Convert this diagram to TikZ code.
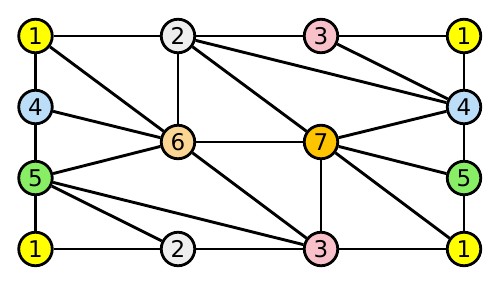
\documentclass[tikz,border=0pt]{standalone}
\usepackage{fontspec}
\setmainfont{DejaVu Sans}
\definecolor{cA}{HTML}{FFFF00}
\definecolor{cB}{HTML}{EEEEEE}
\definecolor{cC}{HTML}{F8C0C8}
\definecolor{cD}{HTML}{BBDDF8}
\definecolor{cE}{HTML}{88EE66}
\definecolor{cF}{HTML}{FAD594}
\definecolor{cG}{HTML}{FFC400}
\begin{document}
\begin{tikzpicture}[x=1pt,y=-1pt,
  vtx/.style={circle,draw=black,line width=2.8pt,minimum size=33.5pt,inner sep=0pt,font=\fontsize{23}{23}\selectfont},
  edge/.style={line width=2.9pt,black}]
\useasboundingbox (0,0) rectangle (500,286);
\node[vtx,fill=cA] (a1) at (35.5,36) {1};
\node[vtx,fill=cB] (b2) at (178,36) {2};
\node[vtx,fill=cC] (c3) at (321,36) {3};
\node[vtx,fill=cA] (d1) at (464,36) {1};
\node[vtx,fill=cD] (l4) at (35.5,107) {4};
\node[vtx,fill=cD] (r4) at (464,107) {4};
\node[vtx,fill=cF] (s6) at (178,142) {6};
\node[vtx,fill=cG] (s7) at (321,142) {7};
\node[vtx,fill=cE] (l5) at (35.5,178) {5};
\node[vtx,fill=cE] (r5) at (464,178) {5};
\node[vtx,fill=cA] (e1) at (35.5,249) {1};
\node[vtx,fill=cB] (f2) at (178,249) {2};
\node[vtx,fill=cC] (g3) at (321,249) {3};
\node[vtx,fill=cA] (h1) at (464,249) {1};
\foreach \u/\v in {a1/b2,a1/l4,a1/s6,b2/s6,b2/c3,b2/r4,b2/s7,c3/d1,c3/r4,d1/r4,
  l4/s6,l4/l5,s6/l5,s6/s7,s6/g3,l5/e1,l5/f2,l5/g3,e1/f2,f2/g3,g3/h1,
  s7/g3,s7/r4,s7/r5,s7/h1,r4/r5,r5/h1}
  \draw[edge] (\u) -- (\v);
\end{tikzpicture}
\end{document}
